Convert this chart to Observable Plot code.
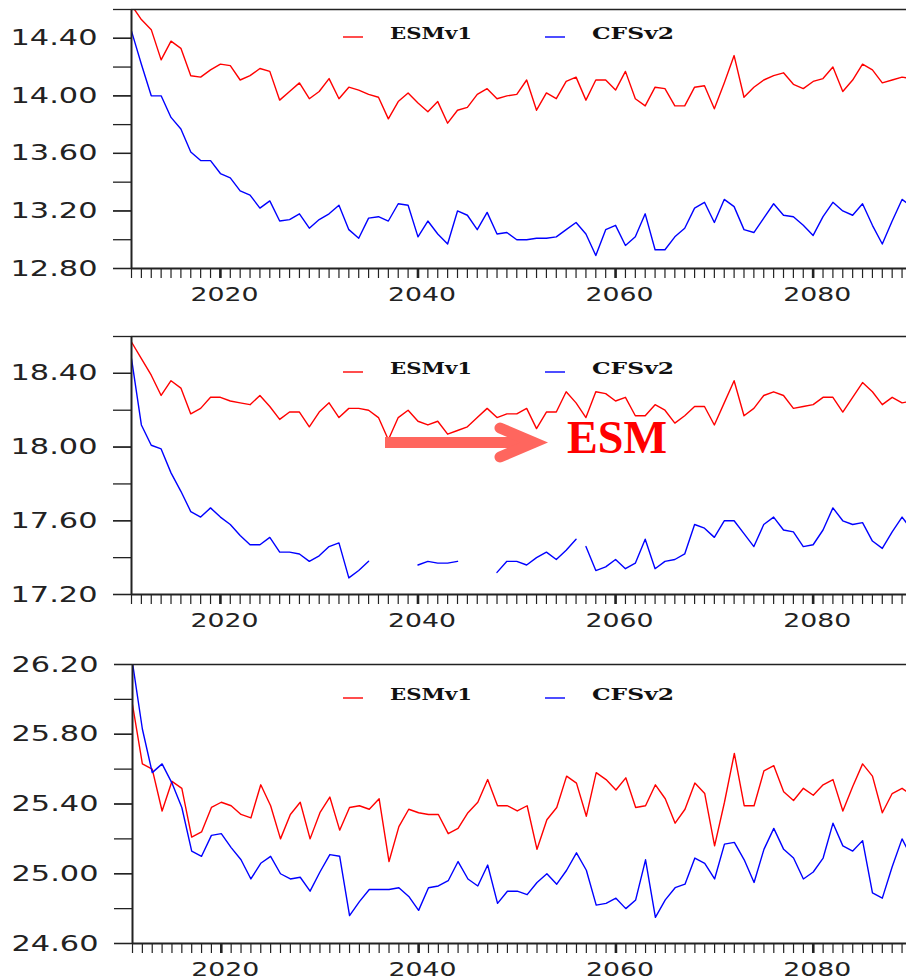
<!DOCTYPE html>
<html>
<head>
<meta charset="utf-8">
<script src="https://cdn.jsdelivr.net/npm/d3@7"></script>
<script src="https://cdn.jsdelivr.net/npm/@observablehq/plot@0.6"></script>
<style>
  html, body { margin: 0; padding: 0; background: #fff; overflow: hidden; }
  #chart svg { display: block; }
</style>
</head>
<body>
<div id="chart"></div>
<script>
// Annual series 2011–2090, two models, three panels
const firstYear = 2011;
const lastYear = 2090;
const years = d3.range(firstYear, lastYear + 1);
const seriesNames = ["ESMv1", "CFSv2"];
const seriesColors = ["#ff0000", "#0000ff"];
const majorYears = [2020, 2040, 2060, 2080];

// Panel 1
const esm1 = [14.63, 14.53, 14.46, 14.25, 14.38, 14.33, 14.14, 14.13, 14.18, 14.22,
  14.21, 14.11, 14.14, 14.19, 14.17, 13.97, 14.03, 14.09, 13.98, 14.03,
  14.12, 13.98, 14.06, 14.04, 14.01, 13.99, 13.84, 13.96, 14.02, 13.95,
  13.89, 13.96, 13.81, 13.90, 13.92, 14.01, 14.05, 13.98, 14.00, 14.01,
  14.11, 13.90, 14.02, 13.98, 14.10, 14.13, 13.97, 14.11, 14.11, 14.04,
  14.17, 13.98, 13.93, 14.06, 14.05, 13.93, 13.93, 14.06, 14.07, 13.91,
  14.09, 14.28, 13.99, 14.06, 14.11, 14.14, 14.16, 14.08, 14.05, 14.10,
  14.12, 14.20, 14.03, 14.11, 14.22, 14.18, 14.09, 14.11, 14.13, 14.12];
const cfs1 = [14.45, 14.22, 14.00, 14.00, 13.85, 13.77, 13.61, 13.55, 13.55, 13.46,
  13.43, 13.34, 13.31, 13.22, 13.27, 13.13, 13.14, 13.18, 13.08, 13.14,
  13.18, 13.24, 13.07, 13.01, 13.15, 13.16, 13.13, 13.25, 13.24, 13.02,
  13.13, 13.04, 12.97, 13.20, 13.17, 13.07, 13.19, 13.04, 13.05, 13.00,
  13.00, 13.01, 13.01, 13.02, 13.07, 13.12, 13.04, 12.89, 13.07, 13.10,
  12.96, 13.02, 13.18, 12.93, 12.93, 13.02, 13.08, 13.22, 13.26, 13.12,
  13.28, 13.23, 13.07, 13.05, 13.15, 13.25, 13.17, 13.16, 13.10, 13.03,
  13.16, 13.26, 13.20, 13.17, 13.25, 13.10, 12.97, 13.13, 13.28, 13.23];
const yDomain1 = [12.8, 14.6];
const yTicks1 = [12.8, 13.0, 13.2, 13.4, 13.6, 13.8, 14.0, 14.2, 14.4, 14.6];
const yLabels1 = [12.8, 13.2, 13.6, 14.0, 14.4];

// Panel 2 (CFSv2 has missing years)
const esm2 = [18.57, 18.48, 18.39, 18.28, 18.36, 18.32, 18.18, 18.21, 18.27, 18.27,
  18.25, 18.24, 18.23, 18.28, 18.22, 18.15, 18.19, 18.19, 18.11, 18.19,
  18.24, 18.16, 18.21, 18.21, 18.20, 18.16, 18.04, 18.16, 18.20, 18.14,
  18.12, 18.14, 18.07, 18.09, 18.11, 18.16, 18.21, 18.16, 18.18, 18.18,
  18.21, 18.10, 18.19, 18.19, 18.30, 18.24, 18.16, 18.30, 18.29, 18.25,
  18.27, 18.17, 18.17, 18.23, 18.20, 18.13, 18.17, 18.22, 18.22, 18.12,
  18.24, 18.36, 18.17, 18.21, 18.28, 18.30, 18.28, 18.21, 18.22, 18.23,
  18.27, 18.27, 18.19, 18.27, 18.35, 18.30, 18.23, 18.27, 18.24, 18.25];
const cfs2 = [18.48, 18.12, 18.01, 17.99, 17.86, 17.76, 17.65, 17.62, 17.67, 17.62,
  17.58, 17.52, 17.47, 17.47, 17.51, 17.43, 17.43, 17.42, 17.38, 17.41,
  17.46, 17.48, 17.29, 17.33, 17.38, null, null, null, null, 17.36,
  17.38, 17.37, 17.37, 17.38, null, null, null, 17.32, 17.38, 17.38,
  17.36, 17.40, 17.43, 17.39, 17.44, 17.50, 17.46, 17.33, 17.35, 17.39,
  17.34, 17.37, 17.50, 17.34, 17.38, 17.39, 17.42, 17.58, 17.56, 17.51,
  17.60, 17.60, 17.53, 17.46, 17.58, 17.62, 17.55, 17.54, 17.46, 17.47,
  17.55, 17.67, 17.60, 17.58, 17.59, 17.49, 17.45, 17.54, 17.62, 17.55];
const cfs2BreakAfter = [2056];
const yDomain2 = [17.2, 18.6];
const yTicks2 = [17.2, 17.4, 17.6, 17.8, 18.0, 18.2, 18.4, 18.6];
const yLabels2 = [17.2, 17.6, 18.0, 18.4];

// Panel 3
const esm3 = [25.97, 25.63, 25.60, 25.36, 25.53, 25.49, 25.21, 25.24, 25.38, 25.41,
  25.39, 25.34, 25.32, 25.51, 25.39, 25.20, 25.34, 25.41, 25.20, 25.35,
  25.44, 25.25, 25.38, 25.39, 25.37, 25.43, 25.07, 25.27, 25.37, 25.35,
  25.34, 25.34, 25.23, 25.26, 25.35, 25.41, 25.54, 25.39, 25.39, 25.36,
  25.39, 25.14, 25.31, 25.38, 25.56, 25.52, 25.33, 25.58, 25.54, 25.48,
  25.55, 25.38, 25.39, 25.51, 25.43, 25.29, 25.37, 25.52, 25.46, 25.16,
  25.41, 25.69, 25.39, 25.39, 25.59, 25.62, 25.47, 25.42, 25.49, 25.45,
  25.51, 25.54, 25.36, 25.50, 25.63, 25.56, 25.35, 25.46, 25.49, 25.45];
const cfs3 = [26.21, 25.83, 25.58, 25.63, 25.52, 25.38, 25.13, 25.10, 25.22, 25.23,
  25.15, 25.08, 24.97, 25.06, 25.10, 25.00, 24.97, 24.98, 24.90, 25.01,
  25.11, 25.10, 24.76, 24.84, 24.91, 24.91, 24.91, 24.92, 24.87, 24.79,
  24.92, 24.93, 24.96, 25.07, 24.97, 24.93, 25.05, 24.83, 24.90, 24.90,
  24.88, 24.95, 25.00, 24.94, 25.02, 25.12, 25.02, 24.82, 24.83, 24.86,
  24.80, 24.85, 25.08, 24.75, 24.85, 24.92, 24.94, 25.09, 25.06, 24.97,
  25.17, 25.18, 25.08, 24.95, 25.14, 25.26, 25.14, 25.09, 24.97, 25.01,
  25.09, 25.29, 25.16, 25.13, 25.19, 24.89, 24.86, 25.04, 25.20, 25.09];
const yDomain3 = [24.6, 26.2];
const yTicks3 = [24.6, 24.8, 25.0, 25.2, 25.4, 25.6, 25.8, 26.0, 26.2];
const yLabels3 = [24.6, 25.0, 25.4, 25.8, 26.2];

const axisColor = "#222";
const legendX = [343, 545];

function rows(values) {
  return years.map((year, i) => ({year, value: values[i]}));
}

function stretch(el, length) {
  el.setAttribute("textLength", length);
  el.setAttribute("lengthAdjust", "spacingAndGlyphs");
}

function panel({esm, cfs, yDomain, yTicks, yLabels, height, marginTop, marginBottom, marginLeft, legendY, breaks = [], note = false}) {
  const segment = (d) => breaks.filter((b) => d.year > b).length;
  const plot = Plot.plot({
    width: 906,
    height,
    marginTop,
    marginBottom,
    marginLeft,
    marginRight: 0,
    style: {fontFamily: "DejaVu Sans", color: axisColor, background: "#fff"},
    x: {domain: [firstYear, 2089.45], label: null},
    y: {domain: yDomain, label: null},
    marks: [
      Plot.line(rows(esm), {x: "year", y: "value", stroke: seriesColors[0], strokeWidth: 1.4, clip: true}),
      Plot.line(rows(cfs), {x: "year", y: "value", z: segment, stroke: seriesColors[1], strokeWidth: 1.4, clip: true}),
      Plot.axisY(yTicks, {tickSize: 18, tickFormat: () => "", strokeWidth: 1.3, label: null}),
      Plot.axisY(yLabels, {tickSize: 18, tickPadding: 16, tickFormat: (d) => d.toFixed(2), fontSize: 22, strokeWidth: 1.3, label: null}),
      Plot.axisX(years, {tickSize: 10, tickFormat: () => "", strokeWidth: 1.2, label: null}),
      Plot.axisX(majorYears, {tickSize: 10, tickPadding: 9, tickFormat: (d) => String(d), fontSize: 19, strokeWidth: 2.6, label: null}),
      Plot.ruleX([firstYear], {stroke: axisColor, strokeWidth: 2}),
      Plot.ruleY([yDomain[0]], {stroke: axisColor, strokeWidth: 1.8}),
      Plot.ruleY([yDomain[1]], {stroke: axisColor, strokeWidth: 1.6})
    ]
  });

  // wide tick lettering
  for (const t of plot.querySelectorAll("text")) {
    const s = t.textContent;
    if (/^\d+\.\d\d$/.test(s)) stretch(t, 87);
    else if (/^\d{4}$/.test(s)) { stretch(t, 68); t.setAttribute("dx", 4); }
  }

  // legend
  const svg = d3.select(plot);
  const legend = svg.append("g").attr("text-anchor", "start");
  seriesNames.forEach((name, i) => {
    const x0 = legendX[i];
    legend.append("line")
      .attr("x1", x0).attr("x2", x0 + 20)
      .attr("y1", legendY).attr("y2", legendY)
      .attr("stroke", seriesColors[i]).attr("stroke-width", 1.4);
    const t = legend.append("text")
      .attr("x", x0 + 47).attr("y", legendY + 2)
      .attr("text-anchor", "start")
      .attr("font-family", "DejaVu Serif").attr("font-weight", "bold")
      .attr("font-size", 16).attr("fill", "#111")
      .text(name);
    stretch(t.node(), 82);
  });

  // arrow and "ESM" callout
  if (note) {
    const ann = svg.append("g").attr("stroke", "#ff665e").attr("stroke-width", 11).attr("fill", "none");
    ann.append("line").attr("x1", 385).attr("x2", 530).attr("y1", 122.5).attr("y2", 122.5);
    ann.append("polyline").attr("points", "500,108 534,122.5 500,137")
      .attr("stroke-linecap", "round").attr("stroke-linejoin", "miter");
    const t = svg.append("text")
      .attr("x", 567).attr("y", 132.7)
      .attr("text-anchor", "start")
      .attr("font-family", "Liberation Serif").attr("font-weight", "bold")
      .attr("font-size", 46).attr("fill", "#ff0000")
      .text("ESM");
    stretch(t.node(), 100);
  }
  return plot;
}

const chart = document.getElementById("chart");
chart.append(panel({esm: esm1, cfs: cfs1, yDomain: yDomain1, yTicks: yTicks1, yLabels: yLabels1,
  height: 320, marginTop: 9, marginBottom: 52, marginLeft: 131, legendY: 37}));
chart.append(panel({esm: esm2, cfs: cfs2, yDomain: yDomain2, yTicks: yTicks2, yLabels: yLabels2,
  height: 330, marginTop: 16, marginBottom: 56, marginLeft: 131, legendY: 52, breaks: cfs2BreakAfter, note: true}));
chart.append(panel({esm: esm3, cfs: cfs3, yDomain: yDomain3, yTicks: yTicks3, yLabels: yLabels3,
  height: 329, marginTop: 14, marginBottom: 36, marginLeft: 132, legendY: 48}));
</script>
</body>
</html>
